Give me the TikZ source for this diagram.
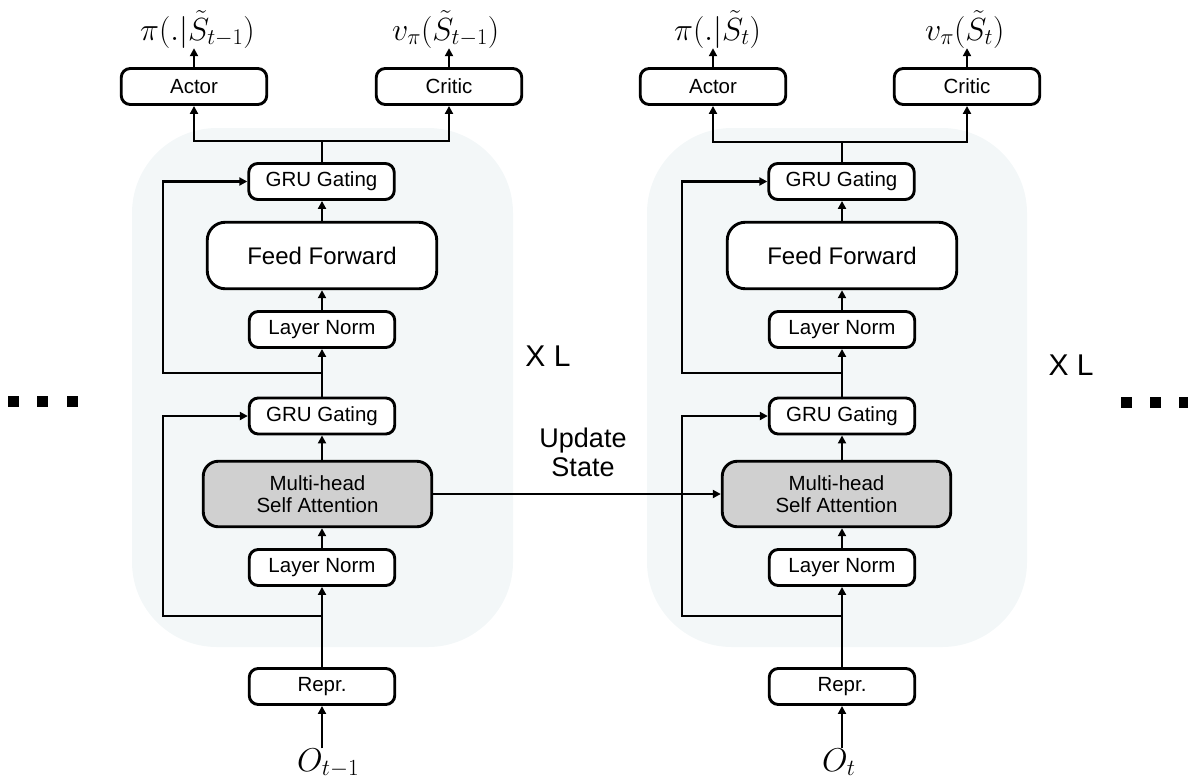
\RequirePackage{fix-cm}
\documentclass[tikz,border=0pt]{standalone}
\usepackage[no-math]{fontspec}
\newfontfamily\arialf{Liberation Sans}
\usetikzlibrary{arrows.meta}
\definecolor{bgc}{HTML}{F3F7F8}
\definecolor{mhc}{HTML}{D0D0D0}
\begin{document}
\begin{tikzpicture}[x=1pt,y=-1pt,
  blk/.style={draw, line width=2.9pt, rounded corners=9pt, fill=white, inner sep=0pt,
    font=\arialf\fontsize{20.5}{24}\selectfont, minimum width=145.5pt, minimum height=36pt},
  ffbox/.style={blk, rounded corners=18pt, font=\arialf\fontsize{24}{28}\selectfont,
    minimum width=229.5pt, minimum height=66.5pt},
  mhbox/.style={blk, rounded corners=15pt, fill=mhc, align=center,
    font=\arialf\fontsize{20.5}{21.5}\selectfont, minimum width=228.5pt, minimum height=65.5pt},
  mlabel/.style={inner sep=0pt, anchor=base west, font=\fontsize{32}{36}\selectfont},
  olabel/.style={inner sep=0pt, anchor=base west, font=\fontsize{33}{36}\selectfont},
  bgpanel/.style={fill=bgc, rounded corners=85pt},
  conn/.style={line width=2.9pt, line join=miter},
  arr/.style={conn, -{Triangle[length=8pt,width=8pt]}},
  dotsq/.style={fill=black},
  biglabel/.style={font=\arialf\fontsize{30}{34}\selectfont, inner sep=0pt},
]
\useasboundingbox (0,0) rectangle (1188,780);

% background panels
\fill[bgpanel] (132,128) rectangle (513,647);
\fill[bgpanel] (647,128) rectangle (1027,647);

% ---------- left block ----------
\node[blk] (actorL) at (194,86.5) {Actor};
\node[blk] (criticL) at (449,86.5) {Critic};
\node[blk] (gru2L) at (321.5,181.5) {GRU Gating};
\node[ffbox] (ffL) at (322,255.5) {Feed Forward};
\node[blk] (ln2L) at (322,329.5) {Layer Norm};
\node[blk] (gru1L) at (322,416) {GRU Gating};
\node[mhbox] (mhsaL) at (317.5,494) {Multi-head\\Self Attention};
\node[blk] (ln1L) at (322,567.5) {Layer Norm};
\node[blk] (reprL) at (322,686.5) {Repr.};

\node[mlabel] (piL) at (140,40) {$\pi(.|\tilde{S}_{t-1})$};
\node[mlabel] (vL) at (392,40) {$v_\pi(\tilde{S}_{t-1})$};
\node[olabel] (oL) at (297,771) {$O_{t-1}$};

\coordinate (brL) at (322,141);
\coordinate (s1L) at (322,616);
\coordinate (s2L) at (322,373);

\draw[arr] (reprL.south |- oL.north) -- (reprL.south);
\draw[arr] (reprL.north) -- (ln1L.south);
\draw[arr] (ln1L.north) -- (ln1L.north |- mhsaL.south);
\draw[arr] (mhsaL.north -| gru1L.south) -- (gru1L.south);
\draw[arr] (gru1L.north) -- (ln2L.south);
\draw[arr] (ln2L.north) -- (ffL.south);
\draw[arr] (ffL.north) -- (ffL.north |- gru2L.south);
\draw[conn] (gru2L.north -| brL) -- (brL);
\draw[arr] (brL) -| (actorL.south);
\draw[arr] (brL) -| (criticL.south);
\draw[arr] (actorL.north) -- (actorL.north |- piL.south);
\draw[arr] (criticL.north) -- (criticL.north |- vL.south);
\draw[arr] (s1L) -- (163,616) |- (gru1L.west);
\draw[arr] (s2L) -- (163,373) |- (gru2L.west);

% ---------- right block ----------
\node[blk] (actorR) at (713,86.5) {Actor};
\node[blk] (criticR) at (967,86.5) {Critic};
\node[blk] (gru2R) at (841.5,181.5) {GRU Gating};
\node[ffbox] (ffR) at (842,255.5) {Feed Forward};
\node[blk] (ln2R) at (842,329.5) {Layer Norm};
\node[blk] (gru1R) at (842,416) {GRU Gating};
\node[mhbox] (mhsaR) at (836.5,494) {Multi-head\\Self Attention};
\node[blk] (ln1R) at (842,567.5) {Layer Norm};
\node[blk] (reprR) at (842,686.5) {Repr.};

\node[mlabel] (piR) at (674,40) {$\pi(.|\tilde{S}_{t})$};
\node[mlabel] (vR) at (925,40) {$v_\pi(\tilde{S}_{t})$};
\node[olabel] (oR) at (822,771) {$O_{t}$};

\coordinate (brR) at (842,142);
\coordinate (s1R) at (842,616);
\coordinate (s2R) at (842,373);

\draw[arr] (reprR.south |- oR.north) -- (reprR.south);
\draw[arr] (reprR.north) -- (ln1R.south);
\draw[arr] (ln1R.north) -- (ln1R.north |- mhsaR.south);
\draw[arr] (mhsaR.north -| gru1R.south) -- (gru1R.south);
\draw[arr] (gru1R.north) -- (ln2R.south);
\draw[arr] (ln2R.north) -- (ffR.south);
\draw[arr] (ffR.north) -- (ffR.north |- gru2R.south);
\draw[conn] (gru2R.north -| brR) -- (brR);
\draw[arr] (brR) -| (actorR.south);
\draw[arr] (brR) -| (criticR.south);
\draw[arr] (actorR.north) -- (actorR.north |- piR.south);
\draw[arr] (criticR.north) -- (criticR.north |- vR.south);
\draw[arr] (s1R) -- (682,616) |- (gru1R.west);
\draw[arr] (s2R) -- (682,373) |- (gru2R.west);

% ---------- between blocks ----------
\draw[arr] (mhsaL.east) -- (mhsaR.west);
\node[font=\arialf\fontsize{27}{29}\selectfont, align=center, inner sep=0pt] (upd) at (583,452) {Update\\State};
\node[biglabel] (xlL) at (548,356) {X L};
\node[biglabel] (xlR) at (1071,365) {X L};

% dots
\fill[dotsq] (8,396) rectangle (19,407);
\fill[dotsq] (37,396) rectangle (48,407);
\fill[dotsq] (67,396) rectangle (78,407);
\fill[dotsq] (1121,397) rectangle (1132,408);
\fill[dotsq] (1150,397) rectangle (1161,408);
\fill[dotsq] (1179,397) rectangle (1190,408);
\end{tikzpicture}
\end{document}
